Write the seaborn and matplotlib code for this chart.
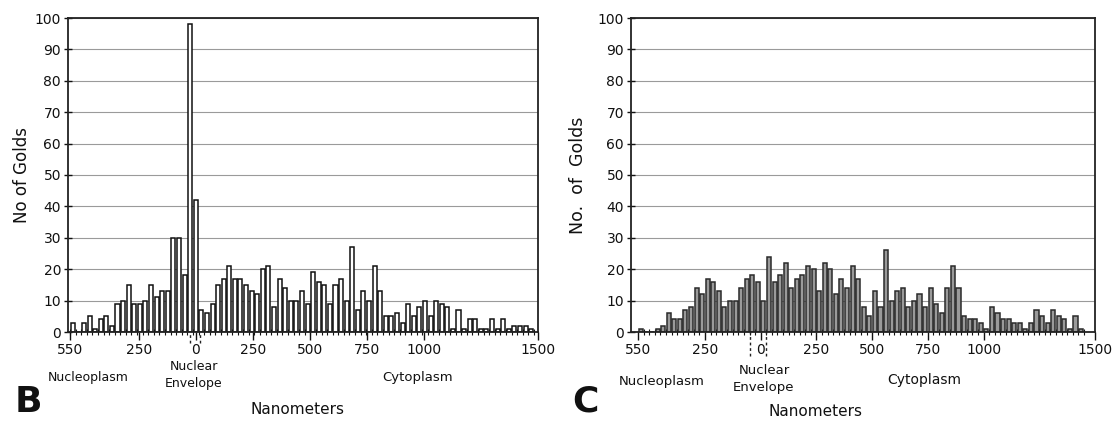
import numpy as np
import pandas as pd
import matplotlib
matplotlib.use("Agg")
import matplotlib.pyplot as plt
import seaborn as sns

# gold counts per distance bin
b_counts = [3, 0, 3, 5, 1, 4, 5, 2, 9, 10, 15, 9, 9, 10, 15, 11, 13, 13, 30, 30, 18, 98, 42,
            7, 6, 9, 15, 17, 21, 17, 17, 15, 13, 12, 20, 21, 8, 17, 14, 10, 10,
            13, 9, 19, 16, 15, 9, 15, 17, 10, 27, 7, 13, 10, 21, 13, 5, 5, 6, 3, 9,
            5, 8, 10, 5, 10, 9, 8, 1, 7, 1, 4, 4, 1, 1, 4, 1, 4, 1, 2, 2, 2, 1]
c_counts = [1, 0, 0, 1, 2, 6, 4, 4, 7, 8, 14, 12, 17, 16, 13, 8, 10, 10, 14, 17,
            18, 16, 10, 24, 16, 18, 22, 14, 17, 18, 21, 20, 13, 22, 20, 12, 17, 14, 21, 17,
            8, 5, 13, 8, 26, 10, 13, 14, 8, 10, 12, 8, 14, 9, 6, 14, 21, 14, 5, 4,
            4, 3, 1, 8, 6, 4, 4, 3, 3, 1, 3, 7, 5, 3, 7, 5, 4, 1, 5, 1]

# bin layout (nm, negative = nucleoplasm side)
b_start, b_width = -551.25, 24.5
c_start, c_width = -550.0, 25.0

tick_pos = [-550, -250, 0, 250, 500, 750, 1000, 1500]
tick_lab = ["550", "250", "0", "250", "500", "750", "1000", "1500"]

sns.set_style("white")
plt.rcParams['font.family'] = ['DejaVu Sans']
for k in ['text.color', 'axes.labelcolor', 'xtick.color', 'ytick.color']:
    plt.rcParams[k] = '#111111'

W, H = 1113, 422
fig = plt.figure(figsize=(W / 100, H / 100), dpi=100)


def px(x0, x1, y0, y1):
    return [x0 / W, 1 - y1 / H, (x1 - x0) / W, (y1 - y0) / H]


def panel(ax, counts, start, width, fill, edge, xlim, ylabel, ysize, env):
    edges = start + width * np.arange(len(counts) + 1)
    df = pd.DataFrame({"nm": edges[:-1] + width / 2, "golds": counts})
    # bins as a list: seaborn compares bins == "auto" when weights are given
    sns.histplot(data=df, x="nm", weights="golds", bins=list(edges), shrink=0.72,
                 color=fill, edgecolor=edge, linewidth=1.1, alpha=1, ax=ax)
    ax.set_xlim(*xlim)
    ax.set_ylim(0, 100)
    ax.set_yticks(range(0, 101, 10))
    ax.set_xticks(tick_pos)
    ax.set_xticklabels(tick_lab, fontsize=10)
    ax.set_xticks(edges, minor=True)
    ax.tick_params(axis='y', labelsize=10, length=6, width=1, direction='inout', left=True, pad=2)
    ax.tick_params(axis='x', which='major', length=6, width=1, direction='out', bottom=True, pad=2)
    ax.tick_params(axis='x', which='minor', length=4, width=0.8, direction='inout', bottom=True)
    ax.yaxis.grid(True, color='#9a9a9a', lw=0.8)
    ax.set_axisbelow(True)
    for s in ax.spines.values():
        s.set_color('#222222')
        s.set_linewidth(1.3)
    ax.set_xlabel("")
    ax.set_ylabel(ylabel, fontsize=ysize)
    for x in env[0]:
        ax.axvline(x, ymin=env[1], ymax=0, color='#222222', ls=(0, (2, 2)), lw=1, clip_on=False)


ax_b = fig.add_axes(px(68, 538, 18, 332))
panel(ax_b, b_counts, b_start, b_width, 'white', '#111111', (-560, 1500),
      "No of Golds", 12, ([-25, 19], -0.035))
ax_b.yaxis.set_label_coords(-0.079, 0.5)

ax_c = fig.add_axes(px(631, 1095, 18, 332))
panel(ax_c, c_counts, c_start, c_width, '#9a9a9a', '#2a2a2a', (-582, 1500),
      "No.  of  Golds", 12.5, ([-48, 24], -0.075))
ax_c.yaxis.set_label_coords(-0.095, 0.5)


def ftext(x, y, s, **kw):
    fig.text(x / W, 1 - y / H, s, **kw)


ftext(88, 378, "Nucleoplasm", fontsize=9, ha='center', va='center')
ftext(194, 375, "Nuclear\nEnvelope", fontsize=9, ha='center', va='center', linespacing=1.3)
ftext(418, 377, "Cytoplasm", fontsize=9.5, ha='center', va='center')
ftext(298, 410, "Nanometers", fontsize=11, ha='center', va='center')
ftext(28, 402, "B", fontsize=26, fontweight='bold', ha='center', va='center')

ftext(662, 381, "Nucleoplasm", fontsize=9.5, ha='center', va='center')
ftext(764, 379, "Nuclear\nEnvelope", fontsize=9.5, ha='center', va='center', linespacing=1.3)
ftext(924, 380, "Cytoplasm", fontsize=10, ha='center', va='center')
ftext(815, 411, "Nanometers", fontsize=11, ha='center', va='center')
ftext(585, 402, "C", fontsize=26, fontweight='bold', ha='center', va='center')

fig.savefig("out.png", dpi=100)
